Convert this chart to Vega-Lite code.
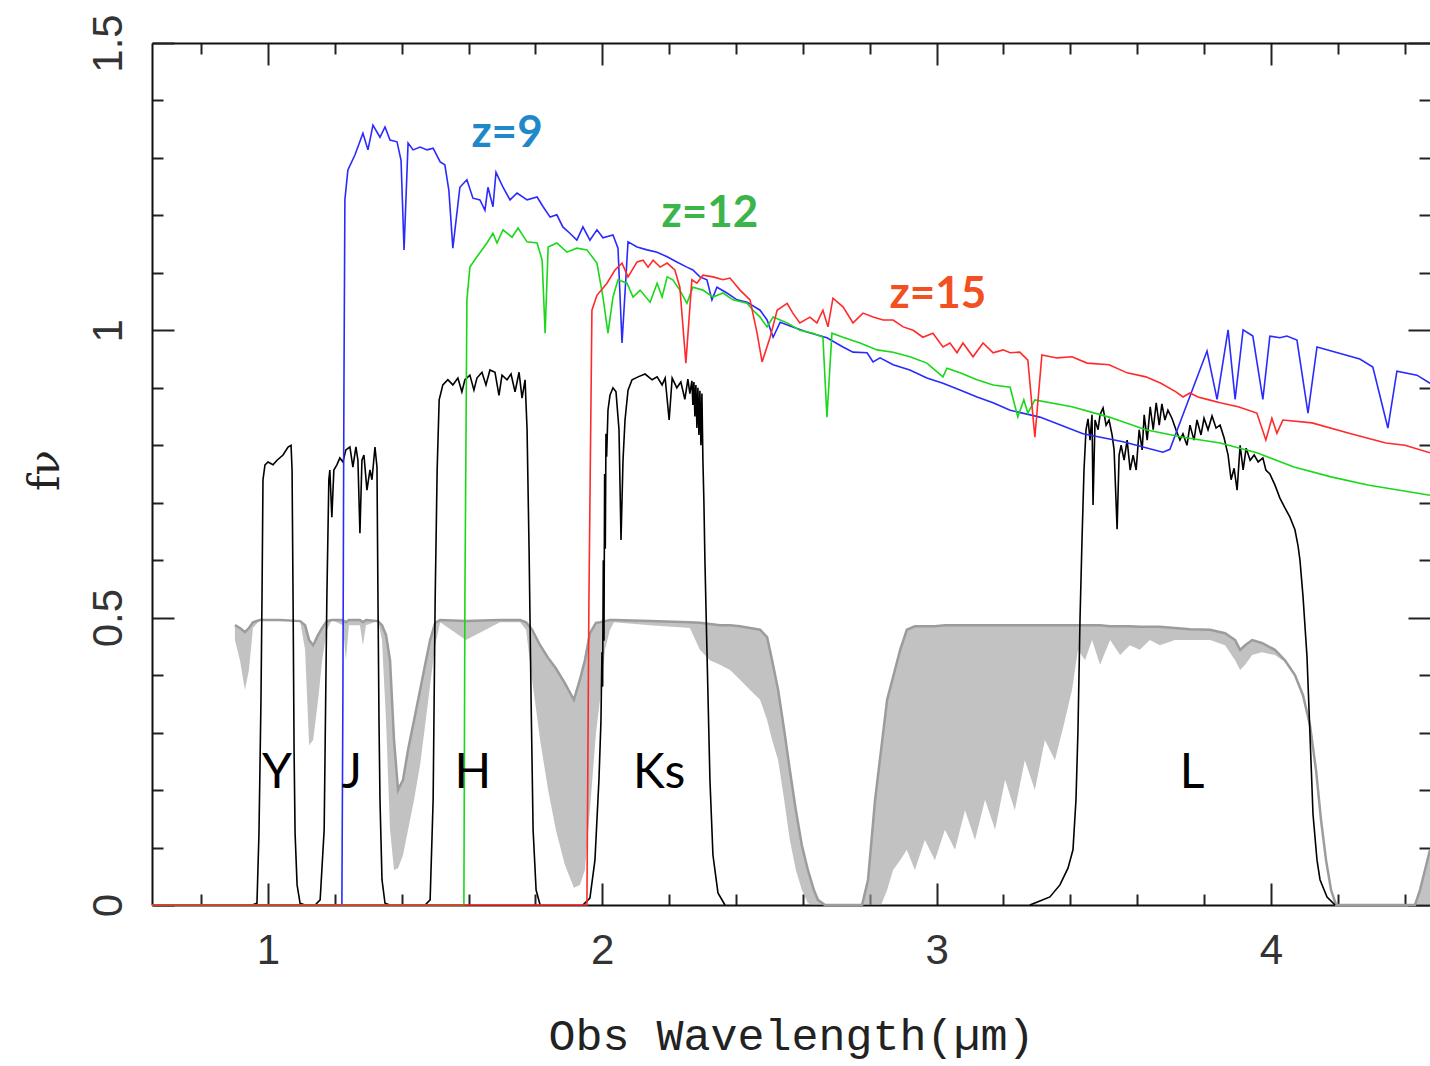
{
  "$schema": "https://vega.github.io/schema/vega-lite/v6.json",
  "width": 1278,
  "height": 862,
  "autosize": {"type": "none"},
  "padding": {"left": 152, "top": 43, "right": 0, "bottom": 161},
  "background": "white",
  "config": {
    "view": {"stroke": null},
    "axis": {"domainColor": "#111", "domainWidth": 2, "tickColor": "#222", "tickWidth": 2, "labelFont": "Liberation Sans", "labelFontSize": 42, "labelColor": "#333", "grid": false}
  },
  "resolve": {"axis": {"x": "independent", "y": "independent"}, "scale": {"color": "independent"}},
  "datasets": {
    "atm": [
      {"x":0.901,"hi":0.487,"lo":0.461},{"x":0.916,"hi":0.482,"lo":0.426},{"x":0.931,"hi":0.475,"lo":0.374},{"x":0.943,"hi":0.482,"lo":0.409},{"x":0.955,"hi":0.492,"lo":0.482},{"x":0.976,"hi":0.496,"lo":0.496},{"x":1.036,"hi":0.496,"lo":0.496},{"x":1.096,"hi":0.494,"lo":0.494},{"x":1.111,"hi":0.487,"lo":0.444},{"x":1.123,"hi":0.461,"lo":0.278},{"x":1.135,"hi":0.452,"lo":0.287},{"x":1.150,"hi":0.470,"lo":0.357},{"x":1.162,"hi":0.482,"lo":0.426},{"x":1.176,"hi":0.494,"lo":0.479},{"x":1.191,"hi":0.496,"lo":0.496},{"x":1.224,"hi":0.496,"lo":0.487},{"x":1.233,"hi":0.492,"lo":0.426},{"x":1.242,"hi":0.496,"lo":0.487},{"x":1.275,"hi":0.496,"lo":0.487},{"x":1.284,"hi":0.492,"lo":0.452},{"x":1.293,"hi":0.496,"lo":0.487},{"x":1.329,"hi":0.494,"lo":0.494},{"x":1.341,"hi":0.487,"lo":0.461},{"x":1.353,"hi":0.470,"lo":0.322},{"x":1.365,"hi":0.426,"lo":0.131},{"x":1.377,"hi":0.287,"lo":0.061},{"x":1.389,"hi":0.200,"lo":0.064},{"x":1.404,"hi":0.218,"lo":0.087},{"x":1.419,"hi":0.270,"lo":0.131},{"x":1.437,"hi":0.322,"lo":0.183},{"x":1.455,"hi":0.374,"lo":0.244},{"x":1.470,"hi":0.418,"lo":0.313},{"x":1.485,"hi":0.461,"lo":0.383},{"x":1.500,"hi":0.491,"lo":0.452},{"x":1.515,"hi":0.496,"lo":0.492},{"x":1.592,"hi":0.494,"lo":0.461},{"x":1.694,"hi":0.496,"lo":0.492},{"x":1.754,"hi":0.496,"lo":0.492},{"x":1.772,"hi":0.492,"lo":0.479},{"x":1.790,"hi":0.479,"lo":0.392},{"x":1.814,"hi":0.452,"lo":0.287},{"x":1.838,"hi":0.430,"lo":0.200},{"x":1.861,"hi":0.412,"lo":0.131},{"x":1.888,"hi":0.386,"lo":0.070},{"x":1.915,"hi":0.357,"lo":0.030},{"x":1.933,"hi":0.392,"lo":0.035},{"x":1.948,"hi":0.426,"lo":0.061},{"x":1.963,"hi":0.473,"lo":0.165},{"x":1.981,"hi":0.491,"lo":0.299},{"x":1.993,"hi":0.492,"lo":0.357},{"x":2.008,"hi":0.494,"lo":0.444},{"x":2.023,"hi":0.496,"lo":0.479},{"x":2.035,"hi":0.496,"lo":0.492},{"x":2.143,"hi":0.494,"lo":0.487},{"x":2.262,"hi":0.492,"lo":0.482},{"x":2.292,"hi":0.491,"lo":0.444},{"x":2.322,"hi":0.489,"lo":0.426},{"x":2.352,"hi":0.487,"lo":0.418},{"x":2.382,"hi":0.487,"lo":0.409},{"x":2.412,"hi":0.485,"lo":0.392},{"x":2.442,"hi":0.482,"lo":0.374},{"x":2.472,"hi":0.479,"lo":0.357},{"x":2.493,"hi":0.466,"lo":0.322},{"x":2.508,"hi":0.426,"lo":0.287},{"x":2.526,"hi":0.374,"lo":0.252},{"x":2.544,"hi":0.305,"lo":0.183},{"x":2.561,"hi":0.235,"lo":0.113},{"x":2.579,"hi":0.165,"lo":0.061},{"x":2.597,"hi":0.104,"lo":0.026},{"x":2.615,"hi":0.061,"lo":0.003},{"x":2.633,"hi":0.026,"lo":0},{"x":2.645,"hi":0.009,"lo":0},{"x":2.666,"hi":0,"lo":0},{"x":2.777,"hi":0,"lo":0},{"x":2.795,"hi":0.044,"lo":0},{"x":2.816,"hi":0.183,"lo":0},{"x":2.834,"hi":0.270,"lo":0},{"x":2.852,"hi":0.357,"lo":0.026},{"x":2.870,"hi":0.397,"lo":0.061},{"x":2.891,"hi":0.444,"lo":0.078},{"x":2.911,"hi":0.479,"lo":0.096},{"x":2.935,"hi":0.485,"lo":0.061},{"x":2.965,"hi":0.485,"lo":0.113},{"x":2.995,"hi":0.485,"lo":0.078},{"x":3.025,"hi":0.487,"lo":0.131},{"x":3.055,"hi":0.487,"lo":0.096},{"x":3.085,"hi":0.487,"lo":0.165},{"x":3.115,"hi":0.487,"lo":0.113},{"x":3.145,"hi":0.487,"lo":0.183},{"x":3.175,"hi":0.487,"lo":0.131},{"x":3.205,"hi":0.487,"lo":0.218},{"x":3.234,"hi":0.487,"lo":0.165},{"x":3.264,"hi":0.487,"lo":0.252},{"x":3.294,"hi":0.487,"lo":0.200},{"x":3.324,"hi":0.487,"lo":0.287},{"x":3.354,"hi":0.487,"lo":0.252},{"x":3.384,"hi":0.487,"lo":0.322},{"x":3.405,"hi":0.487,"lo":0.374},{"x":3.423,"hi":0.487,"lo":0.444},{"x":3.444,"hi":0.487,"lo":0.426},{"x":3.465,"hi":0.487,"lo":0.461},{"x":3.489,"hi":0.487,"lo":0.418},{"x":3.519,"hi":0.485,"lo":0.461},{"x":3.549,"hi":0.485,"lo":0.435},{"x":3.578,"hi":0.485,"lo":0.452},{"x":3.608,"hi":0.484,"lo":0.444},{"x":3.638,"hi":0.484,"lo":0.461},{"x":3.668,"hi":0.484,"lo":0.452},{"x":3.713,"hi":0.482,"lo":0.461},{"x":3.758,"hi":0.480,"lo":0.461},{"x":3.818,"hi":0.479,"lo":0.461},{"x":3.863,"hi":0.473,"lo":0.452},{"x":3.893,"hi":0.461,"lo":0.426},{"x":3.908,"hi":0.444,"lo":0.409},{"x":3.923,"hi":0.452,"lo":0.418},{"x":3.944,"hi":0.461,"lo":0.435},{"x":3.973,"hi":0.456,"lo":0.440},{"x":4.012,"hi":0.444,"lo":0.435},{"x":4.042,"hi":0.426,"lo":0.423},{"x":4.072,"hi":0.400,"lo":0.397},{"x":4.096,"hi":0.365,"lo":0.362},{"x":4.117,"hi":0.313,"lo":0.310},{"x":4.135,"hi":0.235,"lo":0.231},{"x":4.150,"hi":0.148,"lo":0.144},{"x":4.165,"hi":0.078,"lo":0.075},{"x":4.180,"hi":0.026,"lo":0.023},{"x":4.195,"hi":0,"lo":0},{"x":4.431,"hi":0,"lo":0},{"x":4.446,"hi":0.026,"lo":0},{"x":4.461,"hi":0.061,"lo":0},{"x":4.476,"hi":0.096,"lo":0}
    ],
    "filt": [
      {"b":"Y","x":0.952,"y":0},{"b":"Y","x":0.967,"y":0.003},{"b":"Y","x":0.973,"y":0.125},{"b":"Y","x":0.979,"y":0.357},{"b":"Y","x":0.982,"y":0.531},{"b":"Y","x":0.985,"y":0.740},{"b":"Y","x":0.991,"y":0.766},{"b":"Y","x":1.000,"y":0.771},{"b":"Y","x":1.015,"y":0.766},{"b":"Y","x":1.027,"y":0.774},{"b":"Y","x":1.045,"y":0.783},{"b":"Y","x":1.060,"y":0.797},{"b":"Y","x":1.069,"y":0.800},{"b":"Y","x":1.072,"y":0.757},{"b":"Y","x":1.075,"y":0.531},{"b":"Y","x":1.078,"y":0.270},{"b":"Y","x":1.081,"y":0.125},{"b":"Y","x":1.087,"y":0.035},{"b":"Y","x":1.096,"y":0.003},{"b":"Y","x":1.111,"y":0},
      {"b":"J","x":1.141,"y":0},{"b":"J","x":1.156,"y":0.009},{"b":"J","x":1.168,"y":0.131},{"b":"J","x":1.176,"y":0.531},{"b":"J","x":1.182,"y":0.740},{"b":"J","x":1.185,"y":0.757},{"b":"J","x":1.191,"y":0.675},{"b":"J","x":1.197,"y":0.757},{"b":"J","x":1.206,"y":0.766},{"b":"J","x":1.215,"y":0.778},{"b":"J","x":1.224,"y":0.771},{"b":"J","x":1.233,"y":0.792},{"b":"J","x":1.245,"y":0.797},{"b":"J","x":1.254,"y":0.762},{"b":"J","x":1.263,"y":0.797},{"b":"J","x":1.269,"y":0.774},{"b":"J","x":1.275,"y":0.647},{"b":"J","x":1.281,"y":0.774},{"b":"J","x":1.287,"y":0.783},{"b":"J","x":1.296,"y":0.722},{"b":"J","x":1.305,"y":0.757},{"b":"J","x":1.311,"y":0.740},{"b":"J","x":1.320,"y":0.797},{"b":"J","x":1.326,"y":0.762},{"b":"J","x":1.329,"y":0.531},{"b":"J","x":1.332,"y":0.322},{"b":"J","x":1.335,"y":0.183},{"b":"J","x":1.341,"y":0.044},{"b":"J","x":1.350,"y":0.003},{"b":"J","x":1.365,"y":0},
      {"b":"H","x":1.470,"y":0},{"b":"H","x":1.485,"y":0.009},{"b":"H","x":1.494,"y":0.183},{"b":"H","x":1.497,"y":0.357},{"b":"H","x":1.500,"y":0.531},{"b":"H","x":1.506,"y":0.757},{"b":"H","x":1.512,"y":0.879},{"b":"H","x":1.523,"y":0.905},{"b":"H","x":1.538,"y":0.914},{"b":"H","x":1.553,"y":0.905},{"b":"H","x":1.568,"y":0.917},{"b":"H","x":1.580,"y":0.893},{"b":"H","x":1.589,"y":0.914},{"b":"H","x":1.604,"y":0.922},{"b":"H","x":1.616,"y":0.896},{"b":"H","x":1.625,"y":0.917},{"b":"H","x":1.640,"y":0.927},{"b":"H","x":1.652,"y":0.905},{"b":"H","x":1.664,"y":0.931},{"b":"H","x":1.679,"y":0.927},{"b":"H","x":1.691,"y":0.887},{"b":"H","x":1.700,"y":0.922},{"b":"H","x":1.715,"y":0.914},{"b":"H","x":1.727,"y":0.924},{"b":"H","x":1.739,"y":0.893},{"b":"H","x":1.751,"y":0.927},{"b":"H","x":1.760,"y":0.882},{"b":"H","x":1.769,"y":0.914},{"b":"H","x":1.775,"y":0.827},{"b":"H","x":1.781,"y":0.618},{"b":"H","x":1.787,"y":0.357},{"b":"H","x":1.793,"y":0.131},{"b":"H","x":1.802,"y":0.026},{"b":"H","x":1.814,"y":0},
      {"b":"Ks","x":1.942,"y":0},{"b":"Ks","x":1.963,"y":0.012},{"b":"Ks","x":1.978,"y":0.078},{"b":"Ks","x":1.990,"y":0.218},{"b":"Ks","x":1.996,"y":0.32},{"b":"Ks","x":1.999,"y":0.44},{"b":"Ks","x":2.001,"y":0.38},{"b":"Ks","x":2.003,"y":0.60},{"b":"Ks","x":2.005,"y":0.46},{"b":"Ks","x":2.007,"y":0.75},{"b":"Ks","x":2.009,"y":0.62},{"b":"Ks","x":2.011,"y":0.82},{"b":"Ks","x":2.013,"y":0.78},{"b":"Ks","x":2.017,"y":0.861},{"b":"Ks","x":2.023,"y":0.887},{"b":"Ks","x":2.032,"y":0.900},{"b":"Ks","x":2.041,"y":0.893},{"b":"Ks","x":2.050,"y":0.827},{"b":"Ks","x":2.056,"y":0.635},{"b":"Ks","x":2.062,"y":0.774},{"b":"Ks","x":2.068,"y":0.844},{"b":"Ks","x":2.077,"y":0.896},{"b":"Ks","x":2.089,"y":0.914},{"b":"Ks","x":2.107,"y":0.919},{"b":"Ks","x":2.128,"y":0.924},{"b":"Ks","x":2.149,"y":0.914},{"b":"Ks","x":2.164,"y":0.919},{"b":"Ks","x":2.179,"y":0.905},{"b":"Ks","x":2.188,"y":0.917},{"b":"Ks","x":2.200,"y":0.844},{"b":"Ks","x":2.209,"y":0.917},{"b":"Ks","x":2.223,"y":0.900},{"b":"Ks","x":2.235,"y":0.910},{"b":"Ks","x":2.247,"y":0.880},{"b":"Ks","x":2.256,"y":0.915},{"b":"Ks","x":2.262,"y":0.890},{"b":"Ks","x":2.268,"y":0.912},{"b":"Ks","x":2.271,"y":0.870},{"b":"Ks","x":2.274,"y":0.910},{"b":"Ks","x":2.277,"y":0.850},{"b":"Ks","x":2.280,"y":0.905},{"b":"Ks","x":2.283,"y":0.830},{"b":"Ks","x":2.286,"y":0.900},{"b":"Ks","x":2.289,"y":0.818},{"b":"Ks","x":2.292,"y":0.895},{"b":"Ks","x":2.295,"y":0.800},{"b":"Ks","x":2.298,"y":0.890},{"b":"Ks","x":2.301,"y":0.774},{"b":"Ks","x":2.304,"y":0.700},{"b":"Ks","x":2.307,"y":0.600},{"b":"Ks","x":2.313,"y":0.444},{"b":"Ks","x":2.322,"y":0.218},{"b":"Ks","x":2.331,"y":0.087},{"b":"Ks","x":2.346,"y":0.021},{"b":"Ks","x":2.367,"y":0},
      {"b":"L","x":3.279,"y":0},{"b":"L","x":3.309,"y":0.007},{"b":"L","x":3.339,"y":0.014},{"b":"L","x":3.369,"y":0.035},{"b":"L","x":3.393,"y":0.064},{"b":"L","x":3.408,"y":0.096},{"b":"L","x":3.417,"y":0.183},{"b":"L","x":3.423,"y":0.305},{"b":"L","x":3.429,"y":0.496},{"b":"L","x":3.435,"y":0.635},{"b":"L","x":3.441,"y":0.757},{"b":"L","x":3.447,"y":0.827},{"b":"L","x":3.453,"y":0.846},{"b":"L","x":3.459,"y":0.809},{"b":"L","x":3.465,"y":0.853},{"b":"L","x":3.468,"y":0.696},{"b":"L","x":3.474,"y":0.844},{"b":"L","x":3.483,"y":0.827},{"b":"L","x":3.489,"y":0.853},{"b":"L","x":3.498,"y":0.865},{"b":"L","x":3.507,"y":0.835},{"b":"L","x":3.516,"y":0.844},{"b":"L","x":3.525,"y":0.818},{"b":"L","x":3.531,"y":0.792},{"b":"L","x":3.540,"y":0.654},{"b":"L","x":3.546,"y":0.783},{"b":"L","x":3.552,"y":0.800},{"b":"L","x":3.561,"y":0.774},{"b":"L","x":3.570,"y":0.809},{"b":"L","x":3.579,"y":0.757},{"b":"L","x":3.588,"y":0.783},{"b":"L","x":3.597,"y":0.757},{"b":"L","x":3.606,"y":0.827},{"b":"L","x":3.615,"y":0.792},{"b":"L","x":3.621,"y":0.853},{"b":"L","x":3.630,"y":0.809},{"b":"L","x":3.639,"y":0.867},{"b":"L","x":3.648,"y":0.827},{"b":"L","x":3.657,"y":0.874},{"b":"L","x":3.666,"y":0.835},{"b":"L","x":3.674,"y":0.872},{"b":"L","x":3.683,"y":0.844},{"b":"L","x":3.692,"y":0.861},{"b":"L","x":3.704,"y":0.847},{"b":"L","x":3.716,"y":0.827},{"b":"L","x":3.728,"y":0.809},{"b":"L","x":3.737,"y":0.820},{"b":"L","x":3.749,"y":0.800},{"b":"L","x":3.758,"y":0.835},{"b":"L","x":3.770,"y":0.809},{"b":"L","x":3.779,"y":0.844},{"b":"L","x":3.791,"y":0.818},{"b":"L","x":3.800,"y":0.847},{"b":"L","x":3.812,"y":0.827},{"b":"L","x":3.824,"y":0.851},{"b":"L","x":3.836,"y":0.830},{"b":"L","x":3.848,"y":0.835},{"b":"L","x":3.860,"y":0.813},{"b":"L","x":3.872,"y":0.783},{"b":"L","x":3.881,"y":0.740},{"b":"L","x":3.890,"y":0.760},{"b":"L","x":3.899,"y":0.722},{"b":"L","x":3.908,"y":0.800},{"b":"L","x":3.917,"y":0.757},{"b":"L","x":3.926,"y":0.795},{"b":"L","x":3.938,"y":0.774},{"b":"L","x":3.950,"y":0.783},{"b":"L","x":3.962,"y":0.771},{"b":"L","x":3.976,"y":0.778},{"b":"L","x":3.985,"y":0.757},{"b":"L","x":3.997,"y":0.750},{"b":"L","x":4.012,"y":0.731},{"b":"L","x":4.027,"y":0.708},{"b":"L","x":4.042,"y":0.691},{"b":"L","x":4.057,"y":0.675},{"b":"L","x":4.072,"y":0.653},{"b":"L","x":4.081,"y":0.626},{"b":"L","x":4.087,"y":0.600},{"b":"L","x":4.096,"y":0.538},{"b":"L","x":4.108,"y":0.433},{"b":"L","x":4.117,"y":0.296},{"b":"L","x":4.126,"y":0.158},{"b":"L","x":4.138,"y":0.078},{"b":"L","x":4.147,"y":0.044},{"b":"L","x":4.168,"y":0.014},{"b":"L","x":4.192,"y":0}
    ],
    "spec": [
      {"s":"z=9","x":0.653,"y":0},{"s":"z=9","x":1.221,"y":0},{"s":"z=9","x":1.224,"y":0.357},{"s":"z=9","x":1.227,"y":0.879},{"s":"z=9","x":1.230,"y":1.227},{"s":"z=9","x":1.239,"y":1.279},{"s":"z=9","x":1.260,"y":1.305},{"s":"z=9","x":1.284,"y":1.343},{"s":"z=9","x":1.299,"y":1.314},{"s":"z=9","x":1.314,"y":1.357},{"s":"z=9","x":1.335,"y":1.336},{"s":"z=9","x":1.350,"y":1.354},{"s":"z=9","x":1.365,"y":1.331},{"s":"z=9","x":1.386,"y":1.328},{"s":"z=9","x":1.398,"y":1.296},{"s":"z=9","x":1.407,"y":1.140},{"s":"z=9","x":1.419,"y":1.326},{"s":"z=9","x":1.434,"y":1.314},{"s":"z=9","x":1.455,"y":1.319},{"s":"z=9","x":1.476,"y":1.314},{"s":"z=9","x":1.494,"y":1.317},{"s":"z=9","x":1.515,"y":1.293},{"s":"z=9","x":1.529,"y":1.288},{"s":"z=9","x":1.541,"y":1.244},{"s":"z=9","x":1.553,"y":1.143},{"s":"z=9","x":1.574,"y":1.249},{"s":"z=9","x":1.595,"y":1.262},{"s":"z=9","x":1.613,"y":1.230},{"s":"z=9","x":1.634,"y":1.227},{"s":"z=9","x":1.649,"y":1.209},{"s":"z=9","x":1.658,"y":1.249},{"s":"z=9","x":1.673,"y":1.215},{"s":"z=9","x":1.682,"y":1.275},{"s":"z=9","x":1.703,"y":1.249},{"s":"z=9","x":1.724,"y":1.227},{"s":"z=9","x":1.745,"y":1.239},{"s":"z=9","x":1.775,"y":1.227},{"s":"z=9","x":1.805,"y":1.232},{"s":"z=9","x":1.823,"y":1.215},{"s":"z=9","x":1.844,"y":1.197},{"s":"z=9","x":1.864,"y":1.201},{"s":"z=9","x":1.882,"y":1.180},{"s":"z=9","x":1.903,"y":1.169},{"s":"z=9","x":1.924,"y":1.157},{"s":"z=9","x":1.942,"y":1.180},{"s":"z=9","x":1.963,"y":1.157},{"s":"z=9","x":1.984,"y":1.175},{"s":"z=9","x":2.002,"y":1.161},{"s":"z=9","x":2.032,"y":1.166},{"s":"z=9","x":2.047,"y":1.143},{"s":"z=9","x":2.059,"y":0.978},{"s":"z=9","x":2.077,"y":1.154},{"s":"z=9","x":2.104,"y":1.145},{"s":"z=9","x":2.134,"y":1.140},{"s":"z=9","x":2.164,"y":1.136},{"s":"z=9","x":2.194,"y":1.128},{"s":"z=9","x":2.223,"y":1.119},{"s":"z=9","x":2.253,"y":1.110},{"s":"z=9","x":2.271,"y":1.105},{"s":"z=9","x":2.292,"y":1.093},{"s":"z=9","x":2.313,"y":1.088},{"s":"z=9","x":2.328,"y":1.053},{"s":"z=9","x":2.343,"y":1.075},{"s":"z=9","x":2.373,"y":1.065},{"s":"z=9","x":2.403,"y":1.053},{"s":"z=9","x":2.433,"y":1.049},{"s":"z=9","x":2.472,"y":1.035},{"s":"z=9","x":2.493,"y":1.018},{"s":"z=9","x":2.511,"y":0.988},{"s":"z=9","x":2.532,"y":1.014},{"s":"z=9","x":2.570,"y":1.006},{"s":"z=9","x":2.612,"y":0.997},{"s":"z=9","x":2.672,"y":0.987},{"s":"z=9","x":2.720,"y":0.971},{"s":"z=9","x":2.750,"y":0.962},{"s":"z=9","x":2.792,"y":0.961},{"s":"z=9","x":2.810,"y":0.945},{"s":"z=9","x":2.831,"y":0.952},{"s":"z=9","x":2.870,"y":0.940},{"s":"z=9","x":2.920,"y":0.931},{"s":"z=9","x":2.971,"y":0.917},{"s":"z=9","x":3.019,"y":0.908},{"s":"z=9","x":3.070,"y":0.896},{"s":"z=9","x":3.121,"y":0.884},{"s":"z=9","x":3.169,"y":0.874},{"s":"z=9","x":3.220,"y":0.861},{"s":"z=9","x":3.309,"y":0.849},{"s":"z=9","x":3.438,"y":0.820},{"s":"z=9","x":3.558,"y":0.806},{"s":"z=9","x":3.677,"y":0.788},{"s":"z=9","x":3.698,"y":0.793},{"s":"z=9","x":3.737,"y":0.853},{"s":"z=9","x":3.809,"y":0.964},{"s":"z=9","x":3.839,"y":0.880},{"s":"z=9","x":3.872,"y":1.001},{"s":"z=9","x":3.893,"y":0.880},{"s":"z=9","x":3.917,"y":1.001},{"s":"z=9","x":3.946,"y":0.990},{"s":"z=9","x":3.976,"y":0.880},{"s":"z=9","x":3.997,"y":0.990},{"s":"z=9","x":4.027,"y":0.987},{"s":"z=9","x":4.048,"y":0.990},{"s":"z=9","x":4.078,"y":0.983},{"s":"z=9","x":4.111,"y":0.856},{"s":"z=9","x":4.138,"y":0.971},{"s":"z=9","x":4.266,"y":0.950},{"s":"z=9","x":4.305,"y":0.936},{"s":"z=9","x":4.350,"y":0.830},{"s":"z=9","x":4.377,"y":0.929},{"s":"z=9","x":4.437,"y":0.922},{"s":"z=9","x":4.476,"y":0.908},
      {"s":"z=12","x":0.653,"y":0},{"s":"z=12","x":1.586,"y":0},{"s":"z=12","x":1.589,"y":0.531},{"s":"z=12","x":1.595,"y":1.053},{"s":"z=12","x":1.604,"y":1.110},{"s":"z=12","x":1.625,"y":1.128},{"s":"z=12","x":1.655,"y":1.152},{"s":"z=12","x":1.673,"y":1.169},{"s":"z=12","x":1.685,"y":1.152},{"s":"z=12","x":1.703,"y":1.175},{"s":"z=12","x":1.730,"y":1.162},{"s":"z=12","x":1.748,"y":1.178},{"s":"z=12","x":1.775,"y":1.154},{"s":"z=12","x":1.805,"y":1.152},{"s":"z=12","x":1.820,"y":1.122},{"s":"z=12","x":1.829,"y":0.995},{"s":"z=12","x":1.838,"y":1.145},{"s":"z=12","x":1.864,"y":1.152},{"s":"z=12","x":1.894,"y":1.136},{"s":"z=12","x":1.924,"y":1.143},{"s":"z=12","x":1.954,"y":1.140},{"s":"z=12","x":1.984,"y":1.117},{"s":"z=12","x":2.002,"y":1.058},{"s":"z=12","x":2.017,"y":0.995},{"s":"z=12","x":2.032,"y":1.058},{"s":"z=12","x":2.047,"y":1.088},{"s":"z=12","x":2.074,"y":1.082},{"s":"z=12","x":2.092,"y":1.058},{"s":"z=12","x":2.113,"y":1.070},{"s":"z=12","x":2.143,"y":1.049},{"s":"z=12","x":2.164,"y":1.082},{"s":"z=12","x":2.179,"y":1.058},{"s":"z=12","x":2.194,"y":1.093},{"s":"z=12","x":2.211,"y":1.088},{"s":"z=12","x":2.232,"y":1.070},{"s":"z=12","x":2.253,"y":1.047},{"s":"z=12","x":2.271,"y":1.075},{"s":"z=12","x":2.301,"y":1.070},{"s":"z=12","x":2.331,"y":1.058},{"s":"z=12","x":2.361,"y":1.065},{"s":"z=12","x":2.391,"y":1.053},{"s":"z=12","x":2.433,"y":1.047},{"s":"z=12","x":2.451,"y":1.035},{"s":"z=12","x":2.472,"y":1.023},{"s":"z=12","x":2.493,"y":1.006},{"s":"z=12","x":2.511,"y":1.023},{"s":"z=12","x":2.553,"y":1.013},{"s":"z=12","x":2.591,"y":1.000},{"s":"z=12","x":2.630,"y":0.995},{"s":"z=12","x":2.660,"y":0.988},{"s":"z=12","x":2.672,"y":0.849},{"s":"z=12","x":2.687,"y":0.995},{"s":"z=12","x":2.720,"y":0.988},{"s":"z=12","x":2.771,"y":0.978},{"s":"z=12","x":2.822,"y":0.966},{"s":"z=12","x":2.870,"y":0.962},{"s":"z=12","x":2.920,"y":0.954},{"s":"z=12","x":2.971,"y":0.943},{"s":"z=12","x":3.019,"y":0.919},{"s":"z=12","x":3.031,"y":0.934},{"s":"z=12","x":3.070,"y":0.926},{"s":"z=12","x":3.121,"y":0.914},{"s":"z=12","x":3.169,"y":0.905},{"s":"z=12","x":3.220,"y":0.901},{"s":"z=12","x":3.243,"y":0.849},{"s":"z=12","x":3.261,"y":0.879},{"s":"z=12","x":3.273,"y":0.856},{"s":"z=12","x":3.294,"y":0.879},{"s":"z=12","x":3.405,"y":0.867},{"s":"z=12","x":3.516,"y":0.849},{"s":"z=12","x":3.626,"y":0.827},{"s":"z=12","x":3.737,"y":0.814},{"s":"z=12","x":3.848,"y":0.804},{"s":"z=12","x":3.958,"y":0.787},{"s":"z=12","x":4.069,"y":0.762},{"s":"z=12","x":4.180,"y":0.745},{"s":"z=12","x":4.290,"y":0.731},{"s":"z=12","x":4.476,"y":0.713},
      {"s":"z=15","x":0.653,"y":0},{"s":"z=15","x":1.954,"y":0},{"s":"z=15","x":1.960,"y":0.531},{"s":"z=15","x":1.969,"y":1.035},{"s":"z=15","x":1.984,"y":1.061},{"s":"z=15","x":2.014,"y":1.082},{"s":"z=15","x":2.038,"y":1.105},{"s":"z=15","x":2.059,"y":1.117},{"s":"z=15","x":2.077,"y":1.093},{"s":"z=15","x":2.104,"y":1.119},{"s":"z=15","x":2.122,"y":1.122},{"s":"z=15","x":2.137,"y":1.110},{"s":"z=15","x":2.152,"y":1.122},{"s":"z=15","x":2.173,"y":1.110},{"s":"z=15","x":2.194,"y":1.117},{"s":"z=15","x":2.217,"y":1.105},{"s":"z=15","x":2.232,"y":1.075},{"s":"z=15","x":2.250,"y":0.943},{"s":"z=15","x":2.268,"y":1.088},{"s":"z=15","x":2.283,"y":1.082},{"s":"z=15","x":2.301,"y":1.096},{"s":"z=15","x":2.331,"y":1.093},{"s":"z=15","x":2.361,"y":1.088},{"s":"z=15","x":2.382,"y":1.091},{"s":"z=15","x":2.412,"y":1.070},{"s":"z=15","x":2.442,"y":1.053},{"s":"z=15","x":2.463,"y":0.995},{"s":"z=15","x":2.478,"y":0.945},{"s":"z=15","x":2.502,"y":0.988},{"s":"z=15","x":2.523,"y":1.035},{"s":"z=15","x":2.553,"y":1.047},{"s":"z=15","x":2.570,"y":1.030},{"s":"z=15","x":2.591,"y":1.013},{"s":"z=15","x":2.621,"y":1.023},{"s":"z=15","x":2.642,"y":1.013},{"s":"z=15","x":2.660,"y":1.035},{"s":"z=15","x":2.675,"y":1.006},{"s":"z=15","x":2.690,"y":1.056},{"s":"z=15","x":2.720,"y":1.041},{"s":"z=15","x":2.750,"y":1.013},{"s":"z=15","x":2.780,"y":1.030},{"s":"z=15","x":2.810,"y":1.023},{"s":"z=15","x":2.840,"y":1.018},{"s":"z=15","x":2.870,"y":1.018},{"s":"z=15","x":2.900,"y":1.006},{"s":"z=15","x":2.930,"y":1.000},{"s":"z=15","x":2.959,"y":0.988},{"s":"z=15","x":2.989,"y":0.995},{"s":"z=15","x":3.019,"y":0.971},{"s":"z=15","x":3.040,"y":0.978},{"s":"z=15","x":3.061,"y":0.961},{"s":"z=15","x":3.079,"y":0.978},{"s":"z=15","x":3.109,"y":0.954},{"s":"z=15","x":3.139,"y":0.978},{"s":"z=15","x":3.169,"y":0.961},{"s":"z=15","x":3.199,"y":0.966},{"s":"z=15","x":3.220,"y":0.961},{"s":"z=15","x":3.249,"y":0.962},{"s":"z=15","x":3.273,"y":0.948},{"s":"z=15","x":3.294,"y":0.814},{"s":"z=15","x":3.315,"y":0.957},{"s":"z=15","x":3.360,"y":0.952},{"s":"z=15","x":3.405,"y":0.954},{"s":"z=15","x":3.450,"y":0.943},{"s":"z=15","x":3.516,"y":0.940},{"s":"z=15","x":3.570,"y":0.926},{"s":"z=15","x":3.626,"y":0.919},{"s":"z=15","x":3.671,"y":0.908},{"s":"z=15","x":3.716,"y":0.893},{"s":"z=15","x":3.737,"y":0.884},{"s":"z=15","x":3.758,"y":0.891},{"s":"z=15","x":3.782,"y":0.884},{"s":"z=15","x":3.815,"y":0.879},{"s":"z=15","x":3.848,"y":0.874},{"s":"z=15","x":3.902,"y":0.867},{"s":"z=15","x":3.958,"y":0.856},{"s":"z=15","x":3.985,"y":0.809},{"s":"z=15","x":4.003,"y":0.847},{"s":"z=15","x":4.018,"y":0.821},{"s":"z=15","x":4.036,"y":0.844},{"s":"z=15","x":4.123,"y":0.839},{"s":"z=15","x":4.234,"y":0.821},{"s":"z=15","x":4.344,"y":0.804},{"s":"z=15","x":4.401,"y":0.800},{"s":"z=15","x":4.476,"y":0.787}
    ],
    "bandlab": [
      {"t":"Y","x":1.027,"y":0.204},{"t":"J","x":1.251,"y":0.204},{"t":"H","x":1.613,"y":0.204},{"t":"Ks","x":2.170,"y":0.204},{"t":"L","x":3.764,"y":0.204}
    ],
    "zlab": [
      {"t":"z=9","x":1.715,"y":1.319},{"t":"z=12","x":2.322,"y":1.180},{"t":"z=15","x":3.004,"y":1.039}
    ]
  },
  "layer": [
    {
      "data": {"name": "atm"},
      "mark": {"type": "area", "color": "#9a9a9a", "opacity": 0.6},
      "encoding": {
        "x": {"field": "x", "type": "quantitative", "scale": {"domain": [0.653, 4.476], "nice": false, "zero": false},
          "axis": {"orient": "bottom", "values": [0.8,1,1.2,1.4,1.6,1.8,2,2.2,2.4,2.6,2.8,3,3.2,3.4,3.6,3.8,4,4.2,4.4],
            "tickSize": {"condition": {"test": "abs(datum.value-round(datum.value))<0.01", "value": -22}, "value": -11},
            "labelExpr": "abs(datum.value-round(datum.value))<0.01 ? toString(round(datum.value)) : ''",
            "labelPadding": 47, "labelFlush": false, "labelOverlap": false,
            "title": "Obs Wavelength(µm)", "titleFont": "Liberation Mono", "titleFontSize": 45, "titleFontWeight": "normal", "titleColor": "#222", "titleY": 144, "titleBaseline": "alphabetic"}},
        "y": {"field": "hi", "type": "quantitative", "scale": {"domain": [0, 1.5], "nice": false, "zero": false},
          "axis": {"orient": "left", "values": [0,0.1,0.2,0.3,0.4,0.5,0.6,0.7,0.8,0.9,1,1.1,1.2,1.3,1.4,1.5],
            "tickSize": {"condition": {"test": "abs(datum.value*2-round(datum.value*2))<0.01", "value": -22}, "value": -11},
            "labelExpr": "abs(datum.value*2-round(datum.value*2))<0.01 ? format(datum.value, '~g') : ''",
            "labelAngle": 270, "labelAlign": "center", "labelBaseline": "alphabetic", "labelPadding": 53, "labelFlush": false, "labelOverlap": false,
            "title": "fν", "titleFont": "DejaVu Serif", "titleFontSize": 42, "titleFontWeight": "normal", "titleColor": "#222", "titleAngle": 270, "titleX": -107, "titleY": 427, "titleAlign": "center", "titleBaseline": "middle"}},
        "y2": {"field": "lo"}
      }
    },
    {
      "data": {"name": "atm"},
      "mark": {"type": "line", "color": "#9c9c9c", "strokeWidth": 2.5},
      "encoding": {
        "x": {"field": "x", "type": "quantitative",
          "axis": {"orient": "top", "values": [0.8,1,1.2,1.4,1.6,1.8,2,2.2,2.4,2.6,2.8,3,3.2,3.4,3.6,3.8,4,4.2,4.4],
            "tickSize": {"condition": {"test": "abs(datum.value-round(datum.value))<0.01", "value": -22}, "value": -11},
            "labels": false, "title": null}},
        "y": {"field": "hi", "type": "quantitative",
          "axis": {"orient": "right", "values": [0,0.1,0.2,0.3,0.4,0.5,0.6,0.7,0.8,0.9,1,1.1,1.2,1.3,1.4,1.5],
            "tickSize": {"condition": {"test": "abs(datum.value*2-round(datum.value*2))<0.01", "value": -22}, "value": -11},
            "labels": false, "domain": false, "title": null}}
      }
    },
    {
      "data": {"name": "filt"},
      "mark": {"type": "line", "color": "#000000", "strokeWidth": 1.6},
      "encoding": {
        "x": {"field": "x", "type": "quantitative", "axis": null},
        "y": {"field": "y", "type": "quantitative", "axis": null},
        "detail": {"field": "b", "type": "nominal"}
      }
    },
    {
      "data": {"name": "spec"},
      "mark": {"type": "line", "strokeWidth": 1.6},
      "encoding": {
        "x": {"field": "x", "type": "quantitative", "axis": null},
        "y": {"field": "y", "type": "quantitative", "axis": null},
        "color": {"field": "s", "type": "nominal", "scale": {"domain": ["z=9", "z=12", "z=15"], "range": ["#2a2aff", "#18d818", "#ff2a2a"]}, "legend": null}
      }
    },
    {
      "data": {"name": "bandlab"},
      "mark": {"type": "text", "font": "Lato", "fontSize": 48, "color": "#000000", "align": "center", "baseline": "alphabetic"},
      "encoding": {
        "x": {"field": "x", "type": "quantitative", "axis": null},
        "y": {"field": "y", "type": "quantitative", "axis": null},
        "text": {"field": "t"}
      }
    },
    {
      "data": {"name": "zlab"},
      "mark": {"type": "text", "font": "Lato", "fontSize": 44, "fontWeight": "bold", "align": "center", "baseline": "alphabetic"},
      "encoding": {
        "x": {"field": "x", "type": "quantitative", "axis": null},
        "y": {"field": "y", "type": "quantitative", "axis": null},
        "text": {"field": "t"},
        "color": {"field": "t", "type": "nominal", "scale": {"domain": ["z=9", "z=12", "z=15"], "range": ["#1f88c8", "#3bb54a", "#f25022"]}, "legend": null}
      }
    }
  ]
}
